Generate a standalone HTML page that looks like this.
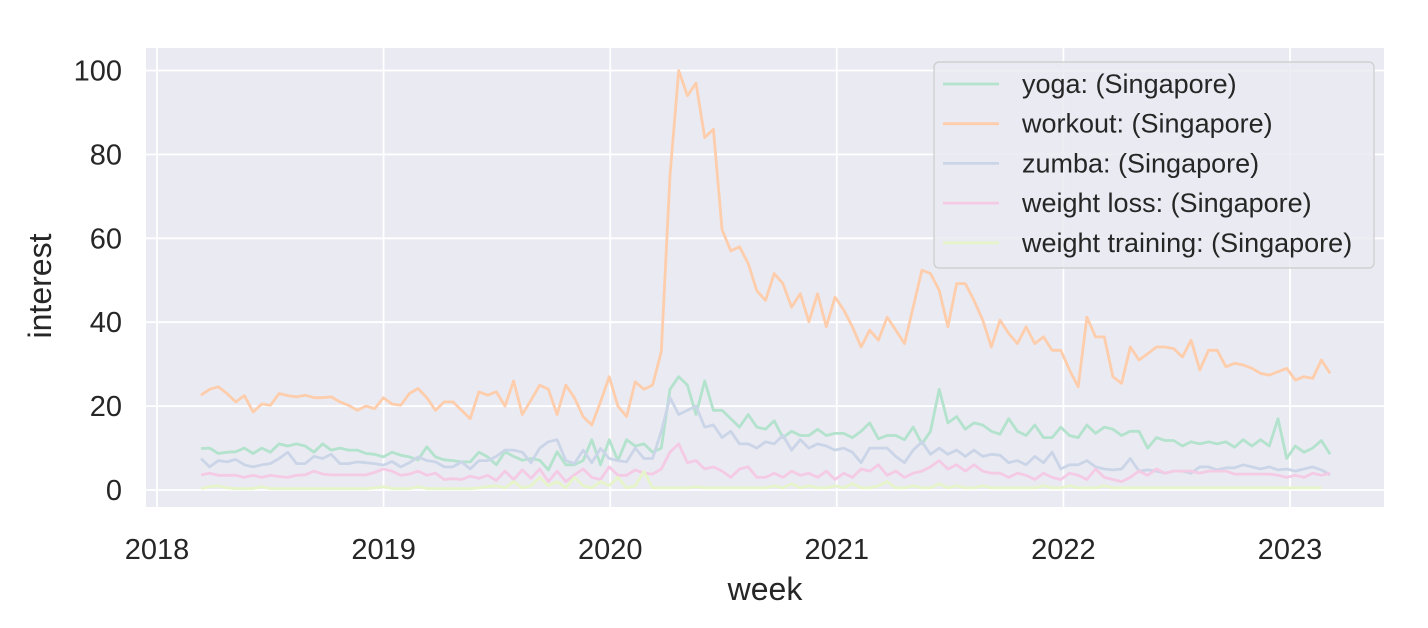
<!DOCTYPE html>
<html><head><meta charset="utf-8"><style>
html,body{margin:0;padding:0;background:#fff;}
svg{display:block;font-family:"Liberation Sans",Arial,sans-serif;}
</style></head><body>
<svg id="chart" width="1428" height="628" viewBox="0 0 1428 628">
<rect x="146" y="48" width="1238" height="459" fill="#eaeaf2"/>
<g id="grid"></g><g id="series"></g><g id="ticks"></g>
<text x="765" y="600" font-size="32" text-anchor="middle" fill="#262626">week</text>
<text x="0" y="0" font-size="32" text-anchor="middle" fill="#262626" transform="translate(51,286) rotate(-90)">interest</text>
<g>
<rect x="934" y="62" width="440" height="206" rx="5" fill="#eaeaf2" fill-opacity="0.85" stroke="#cccccc" stroke-width="1.2"/>
<g id="legend"></g>
</g>
</svg>
<script>
const years = [2018, 2019, 2020, 2021, 2022, 2023];
const yTicks = [0, 20, 40, 60, 80, 100];
const seriesNames = ["yoga: (Singapore)", "workout: (Singapore)", "zumba: (Singapore)", "weight loss: (Singapore)", "weight training: (Singapore)"];
const startYear = 2018.194;
const stepYears = 14 / 365.25;
const yoga = [9.9,10,8.7,9,9.1,10,8.7,10,9,11,10.5,11,10.5,9,11,9.5,10,9.5,9.5,8.7,8.5,7.9,9,8.3,7.9,7.2,10.3,7.9,7.2,7,6.7,6.7,9,7.9,6,9.1,8,7.1,7.5,7.1,4.8,9.1,6,6,7,12,6,12,7,12,10.5,11,9,10,24,27,25,18,26,19,19,17,15,18,15,
14.5,16.5,12.5,14,13,13,14.5,13,13.5,13.5,12.5,14,16,12.2,13,13,12,15,11,14,24,16,17.5,14.5,16,15.5,14,13.3,17,14,13,15.5,12.5,12.5,15,13,12.5,15.5,13.5,15,14.5,13,14,14,10,12.5,11.8,11.8,10.5,11.5,11,11.5,11,11.5,10.2,12,10.5,12,10.5,17,7.5,10.5,9,10,11.8,8.5];
const workout = [22.6,24,24.6,23,21,22.5,18.6,20.5,20.2,23,22.5,22.2,22.6,22,22,22.2,21,20.2,19,20,19.4,22,20.5,20.2,23,24.2,22,19,21,21,19,17,23.4,22.6,23.4,20,26,18,21.4,25,24,18,25,22,17.5,15.5,21,27,20,17.5,25.8,24,25,33,75,100,94,97,84,86,62,57,58,54,47.5,
45.2,51.6,49.2,43.6,46.8,40.1,46.8,38.9,46,42.9,38.9,34.1,38.1,35.7,41.2,38.1,34.9,43.6,52.4,51.6,47.6,38.9,49.2,49.2,45.2,40.5,34.1,40.5,37.3,34.9,38.9,34.9,36.5,33.3,33.3,28.6,24.6,41.2,36.5,36.5,27,25.4,34.1,31,32.5,34.1,34.1,33.7,31.7,35.7,28.6,33.3,33.3,29.4,30.2,29.8,29,27.8,27.4,28.2,29,26.2,27,26.6,31,27.8];
const zumba = [7.5,5.5,7,6.7,7.3,6,5.5,6,6.3,7.5,9,6.3,6.3,8,7.5,8.5,6.3,6.3,6.7,6.5,6.3,5.9,6.8,5.5,6.5,7.9,7,6.7,5.5,5.5,6.7,5,7,7,8,9.5,9.5,9,6.5,10,11.5,12,7,6.3,9.5,6.5,9.9,7.5,7,6.7,10,7.5,7.5,14,22,18,19,20,15,15.5,12.5,14,11,11,10,
11.5,11,13,9.5,12,10,11,10.5,9.5,10,9,6.5,10,10,10,8,6.5,9.5,11.5,8.5,10,8.5,9.5,8,9.5,8,8.5,8.3,6.5,7,6,8,6.5,9,5,6,6,7,5.5,5,4.8,5,7.5,4.5,4.8,4.5,4,4.5,4.5,4,5.5,5.5,4.8,5.3,5.3,6,5.5,5,5.5,4.8,5,4.5,5,5.5,4.8,3.6];
const weightLoss = [3.6,4,3.5,3.5,3.5,3,3.5,3,3.5,3.2,3,3.5,3.6,4.5,3.8,3.6,3.6,3.6,3.6,3.6,4.2,5,4.5,3.5,3.8,4.5,3.5,4,2.5,2.7,2.5,3.3,2.8,3.5,2.3,4.5,2.5,4.8,2.8,5,2,4.5,2,3.6,5,3,2.5,5.5,3.5,3.5,4.8,4,3.8,5,9,11,6.5,7,5,5.5,4.5,3,5,5.5,3,
3,4,3,4.5,3.5,4,3,4.5,2.5,4,3,5,4.5,6,3.5,4.5,3,4,4.5,5.5,7,5,6,4.5,6,4.5,4,4,3,4,3.5,2.5,4,3,2.5,4,3.5,2.5,5,3,2.5,2,3,4.5,3.5,5,4,4.5,4.5,4.5,4,4.5,4.5,4.5,3.8,3.8,3.8,3.8,3.8,3.5,3,3.5,3,4,3.5,4];
const weightTraining = [0.3,0.8,1,0.5,0.3,0.3,0.3,0.8,0.3,0.3,0.3,0.3,0.3,0.3,0.3,0.3,0.3,0.3,0.3,0.3,0.5,0.8,0.3,0.3,0.3,0.8,0.3,0.3,0.3,0.3,0.3,0.3,0.5,0.8,1,0.5,2,0.5,1,3,1,2,0.5,3,1,0.5,2,1,3,0.5,1,4.4,0.5,0.5,0.5,0.5,0.5,0.8,0.5,0.5,0.5,0.5,0.5,0.5,0.5,
0.5,1,0.5,1.5,0.5,1,0.5,0.5,1,0.5,1.5,0.5,0.5,1,2,0.5,0.5,1,0.5,0.5,1.5,0.5,1,0.5,0.5,1,0.5,0.5,0.5,0.5,0.5,0.5,1,0.5,0.5,1,0.5,0.5,0.5,1,0.5,0.5,0.5,0.5,0.5,0.5,0.5,0.5,0.5,0.5,0.5,0.5,0.5,0.5,0.5,0.5,0.5,0.5,0.5,0.5,0.5,0.5,0.5,0.5,0.5];
const colors = ["#b3e2cd", "#fdcdac", "#cbd5e8", "#f4cae4", "#e6f5c9"];
const allSeries = [yoga, workout, zumba, weightLoss, weightTraining];
const seriesKeys = ["yoga", "workout", "zumba", "weight-loss", "weight-training"];

const NS = "http://www.w3.org/2000/svg";
function xScale(t){ return 157 + (t - 2018) * 226.6; }
function yScale(v){ return 490 - v * 4.195; }
function mk(tag, attrs, parent){ const e = document.createElementNS(NS, tag); for (const k in attrs) e.setAttribute(k, attrs[k]); parent.appendChild(e); return e; }

const grid = document.getElementById("grid"), ticks = document.getElementById("ticks");
yTicks.forEach(v => {
  const l = mk("line", {x1:146, x2:1384, y1:yScale(v), y2:yScale(v), stroke:"#fff", "stroke-width":1.8}, grid);
  
  
  const t = mk("text", {x:122, y:yScale(v)+10, "text-anchor":"end", "font-size":29, fill:"#262626"}, ticks);
  t.textContent = v;
  
  
});
years.forEach(yr => {
  const l = mk("line", {x1:xScale(yr), x2:xScale(yr), y1:48, y2:507, stroke:"#fff", "stroke-width":1.8}, grid);
  
  
  const t = mk("text", {x:xScale(yr), y:559, "text-anchor":"middle", "font-size":29, fill:"#262626"}, ticks);
  t.textContent = yr;
  
  
});
const sg = document.getElementById("series");
allSeries.forEach((arr, si) => {
  const pts = arr.map((v, i) => xScale(startYear + i * stepYears).toFixed(1) + "," + yScale(v).toFixed(1)).join(" ");
  const p = mk("polyline", {points:pts, fill:"none", stroke:colors[si], "stroke-width":2.8, "stroke-linejoin":"round"}, sg);
  
  
});
const lg = document.getElementById("legend");
seriesNames.forEach((name, i) => {
  const y = 84 + i * 39.7;
  const l = mk("line", {x1:943, x2:999, y1:y, y2:y, stroke:colors[i], "stroke-width":2.8}, lg);
  
  
  const t = mk("text", {x:1022, y:y+9, "font-size":27, fill:"#262626"}, lg);
  t.textContent = name;
  
  
});
</script>
</body></html>
